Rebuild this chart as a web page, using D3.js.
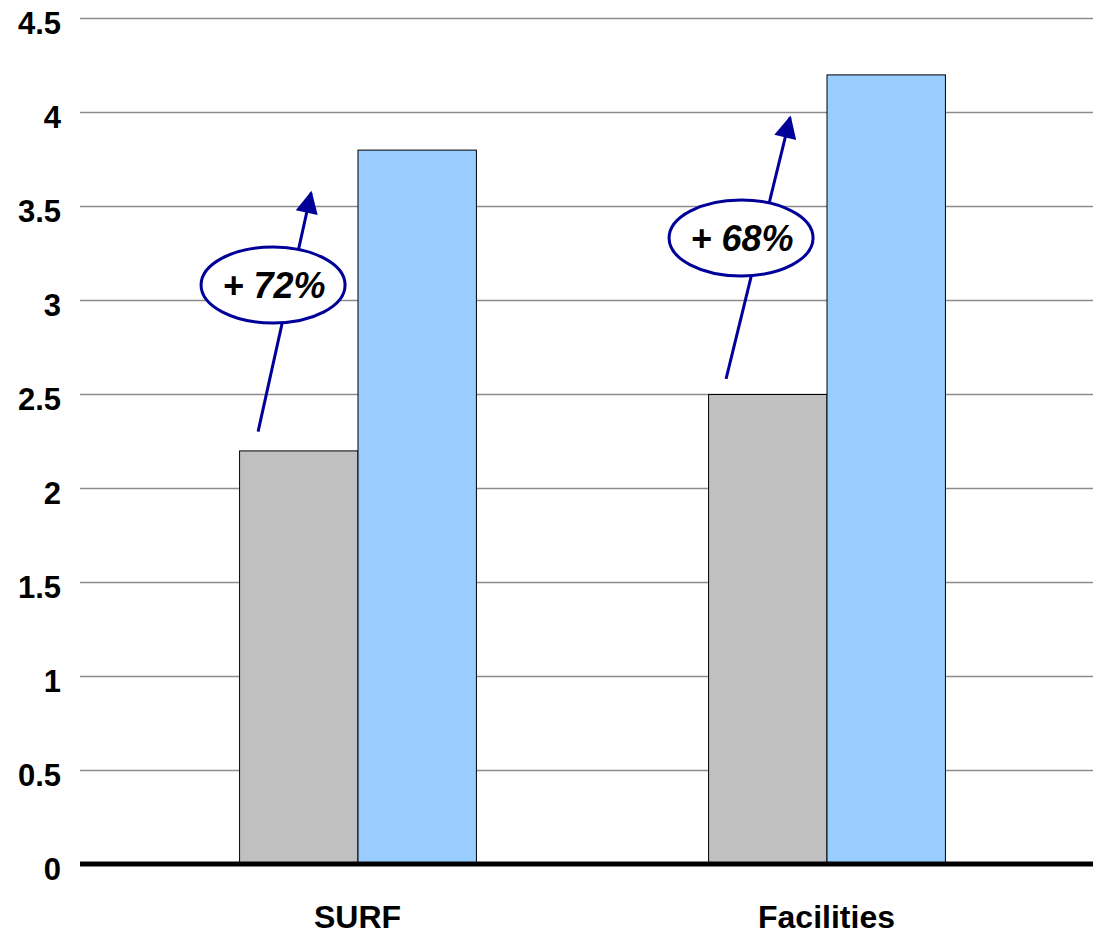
<!DOCTYPE html>
<html>
<head>
<meta charset="utf-8">
<script src="https://cdn.jsdelivr.net/npm/d3@7"></script>
<style>
  html, body { margin: 0; padding: 0; background: #fff; }
  svg { display: block; font-family: "Liberation Sans", Arial, sans-serif; }
</style>
</head>
<body>
<svg id="chart" width="1093" height="935"></svg>
<script>
// Categories and the two series (before / after)
const categories = ["SURF", "Facilities"];
const seriesNames = ["before", "after"];
const beforeValues = [2.2, 2.5];
const afterValues = [3.8, 4.2];
const yTicks = [0, 0.5, 1, 1.5, 2, 2.5, 3, 3.5, 4, 4.5];
const yTickLabels = ["0", "0.5", "1", "1.5", "2", "2.5", "3", "3.5", "4", "4.5"];
// Growth callouts: label, arrow start / end value, callout centre value
const growthLabels = ["+ 72%", "+ 68%"];
const arrowFrom = [2.3, 2.58];
const arrowTo = [3.57, 3.97];
const calloutAt = [3.08, 3.33];

const colors = { before: "#C0C0C0", after: "#99CCFF" };

const svg = d3.select("#chart");
const plotLeft = 80, plotRight = 1093, plotTop = 18, plotBottom = 864;

const y = d3.scaleLinear().domain([0, 4.5]).range([plotBottom, plotTop]);
const x = d3.scaleBand().domain(categories).range([123, 1061])
  .paddingInner(0.495).paddingOuter(0.2475);
const xs = d3.scaleBand().domain(seriesNames).range([0, x.bandwidth()]);

// Horizontal gridlines
svg.append("g").selectAll("line").data(yTicks.filter(d => d > 0)).join("line")
  .attr("x1", plotLeft).attr("x2", plotRight)
  .attr("y1", d => Math.round(y(d)) + 0.5).attr("y2", d => Math.round(y(d)) + 0.5)
  .attr("stroke", "#8c8c8c").attr("stroke-width", 1.5);

// Y tick labels
svg.append("g").selectAll("text").data(yTicks).join("text")
  .attr("x", 61).attr("y", d => y(d) + 16)
  .attr("text-anchor", "end")
  .attr("font-size", 31).attr("font-weight", "bold")
  .text((d, i) => yTickLabels[i]);

// Bars
const rows = categories.map((c, i) => ({ c, before: beforeValues[i], after: afterValues[i] }));
const groups = svg.append("g").selectAll("g").data(rows).join("g")
  .attr("transform", d => `translate(${x(d.c)},0)`);
groups.selectAll("rect")
  .data(d => seriesNames.map(s => ({ s, v: d[s] })))
  .join("rect")
  .attr("x", d => xs(d.s) + 0.5)
  .attr("y", d => y(d.v) + 0.5)
  .attr("width", xs.bandwidth())
  .attr("height", d => y(0) - y(d.v))
  .attr("fill", d => colors[d.s])
  .attr("stroke", "#000").attr("stroke-width", 1);

// Baseline
svg.append("line")
  .attr("x1", plotLeft).attr("x2", plotRight)
  .attr("y1", y(0)).attr("y2", y(0))
  .attr("stroke", "#000").attr("stroke-width", 5);

// Category labels
svg.append("g").selectAll("text").data(categories).join("text")
  .attr("x", d => x(d) + x.bandwidth() / 2)
  .attr("y", 928)
  .attr("text-anchor", "middle")
  .attr("font-size", 32).attr("font-weight", "bold")
  .text(d => d);

// Growth arrows with ellipse callouts
const navy = "#000099";
svg.append("defs").append("marker")
  .attr("id", "head").attr("viewBox", "0 0 10 10")
  .attr("refX", 9).attr("refY", 5)
  .attr("markerWidth", 9.5).attr("markerHeight", 7.5)
  .attr("markerUnits", "strokeWidth")
  .attr("orient", "auto")
  .append("path").attr("d", "M0,0 L10,5 L0,10 Z").attr("fill", navy);

categories.forEach((c, i) => {
  const x0 = x(c) + 19 - (i === 1 ? 1 : 0);
  const x1 = x(c) + 72 + (i === 1 ? 10 : 0);
  const y0 = y(arrowFrom[i]);
  const y1 = y(arrowTo[i]);
  svg.append("line")
    .attr("x1", x0).attr("y1", y0).attr("x2", x1).attr("y2", y1)
    .attr("stroke", navy).attr("stroke-width", 3)
    .attr("marker-end", "url(#head)");
  // callout sits slightly left of the arrow shaft
  const cy = y(calloutAt[i]);
  const cx = x(c) + 34 - (i === 1 ? 1 : 0);
  svg.append("ellipse")
    .attr("cx", cx).attr("cy", cy).attr("rx", 72).attr("ry", 38)
    .attr("fill", "#fff").attr("stroke", navy).attr("stroke-width", 3);
  svg.append("text")
    .attr("x", cx + 1).attr("y", cy + 13)
    .attr("text-anchor", "middle")
    .attr("font-size", 36).attr("font-weight", "bold").attr("font-style", "italic")
    .text(growthLabels[i]);
});
</script>
</body>
</html>
